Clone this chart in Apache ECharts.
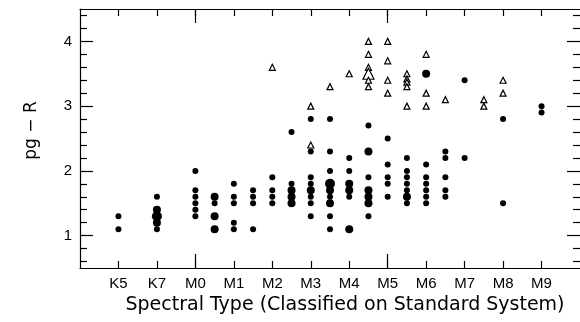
<!DOCTYPE html>
<html>
<head>
<meta charset="utf-8">
<style>
  html, body { margin: 0; padding: 0; background: #fff; }
  #main { width: 580px; height: 322px; }
</style>
<script src="https://cdn.jsdelivr.net/npm/echarts@6/dist/echarts.min.js"></script>
</head>
<body>
<div id="main"></div>
<script>
// 光谱型用数值表示: M0 = 0, K7 = -1, K5 = -2, M0.5 = 0.5 ...
var xTickValues = [-2, -1, 0, 1, 2, 3, 4, 5, 6, 7, 8, 9];
var xTickLabels = ['K5', 'K7', 'M0', 'M1', 'M2', 'M3', 'M4', 'M5', 'M6', 'M7', 'M8', 'M9'];
var xMajorTicks = [0, 5];
var yLabelValues = [1, 2, 3, 4];
var yMinorTicks = [0.6, 0.8, 1.2, 1.4, 1.6, 1.8, 2.2, 2.4, 2.6, 2.8, 3.2, 3.4, 3.6, 3.8, 4.2, 4.4];

// [spectral type, pg - R, number of stars]
var detections = [
    [-2, 1.3, 1], [-2, 1.1, 1],
    [-1, 1.6, 1], [-1, 1.4, 2], [-1, 1.3, 3], [-1, 1.2, 2], [-1, 1.1, 1],
    [0, 2.0, 1], [0, 1.7, 1], [0, 1.6, 1], [0, 1.5, 1], [0, 1.4, 1], [0, 1.3, 1],
    [0.5, 1.6, 2], [0.5, 1.5, 1], [0.5, 1.3, 2], [0.5, 1.1, 2],
    [1, 1.8, 1], [1, 1.6, 1], [1, 1.5, 1], [1, 1.2, 1], [1, 1.1, 1],
    [1.5, 1.7, 1], [1.5, 1.6, 1], [1.5, 1.5, 1], [1.5, 1.1, 1],
    [2, 1.9, 1], [2, 1.7, 1], [2, 1.6, 1], [2, 1.5, 1],
    [2.5, 2.6, 1], [2.5, 1.8, 1], [2.5, 1.7, 2], [2.5, 1.6, 2], [2.5, 1.5, 2],
    [3, 2.8, 1], [3, 2.3, 1], [3, 1.9, 1], [3, 1.8, 1], [3, 1.7, 2], [3, 1.6, 1], [3, 1.5, 1], [3, 1.3, 1],
    [3.5, 2.8, 1], [3.5, 2.3, 1], [3.5, 2.0, 1], [3.5, 1.8, 3], [3.5, 1.7, 2], [3.5, 1.6, 1], [3.5, 1.5, 2], [3.5, 1.3, 1], [3.5, 1.1, 1],
    [4, 2.2, 1], [4, 2.0, 1], [4, 1.8, 2], [4, 1.7, 2], [4, 1.6, 1], [4, 1.1, 2],
    [4.5, 2.7, 1], [4.5, 2.3, 2], [4.5, 1.9, 1], [4.5, 1.7, 2], [4.5, 1.6, 2], [4.5, 1.5, 2], [4.5, 1.3, 1],
    [5, 2.5, 1], [5, 2.1, 1], [5, 1.9, 1], [5, 1.8, 1], [5, 1.6, 1],
    [5.5, 2.2, 1], [5.5, 2.0, 1], [5.5, 1.9, 1], [5.5, 1.8, 1], [5.5, 1.7, 1], [5.5, 1.6, 2], [5.5, 1.5, 1],
    [6, 3.5, 2], [6, 2.1, 1], [6, 1.9, 1], [6, 1.8, 1], [6, 1.7, 1], [6, 1.6, 1], [6, 1.5, 1],
    [6.5, 2.3, 1], [6.5, 2.2, 1], [6.5, 1.9, 1], [6.5, 1.7, 1], [6.5, 1.6, 1],
    [7, 3.4, 1], [7, 2.2, 1],
    [8, 2.8, 1], [8, 1.5, 1],
    [9, 3.0, 1], [9, 2.9, 1]
];

// upper limits (open triangles)
var upperLimits = [
    [2, 3.6, 1],
    [3, 3.0, 1], [3, 2.4, 1],
    [3.5, 3.3, 1],
    [4, 3.5, 1],
    [4.5, 4.0, 1], [4.5, 3.8, 1], [4.5, 3.6, 1], [4.5, 3.5, 2], [4.5, 3.4, 1], [4.5, 3.3, 1],
    [5, 4.0, 1], [5, 3.7, 1], [5, 3.4, 1], [5, 3.2, 1],
    [5.5, 3.5, 1], [5.5, 3.42, 1], [5.5, 3.37, 1], [5.5, 3.3, 1], [5.5, 3.0, 1],
    [6, 3.8, 1], [6, 3.2, 1], [6, 3.0, 1],
    [6.5, 3.1, 1],
    [7.5, 3.1, 1], [7.5, 3.0, 1],
    [8, 3.4, 1], [8, 3.2, 1]
];

const spectralChart = {
    init: function () {
        this.render();
    },
    xAxisPart: function (position, ticks, len, withLabel, withLine) {
        return {
            type: 'value',
            position: position,
            min: -3,
            max: 10,
            axisLine: { show: withLine, onZero: false, lineStyle: { color: '#000', width: 1.2 } },
            axisTick: { show: true, inside: true, length: len, customValues: ticks, lineStyle: { color: '#000', width: 1.2 } },
            axisLabel: withLabel ? {
                show: true,
                customValues: xTickValues,
                margin: 8,
                color: '#000',
                fontSize: 15,
                fontFamily: 'Liberation Sans',
                formatter: function (v) {
                    var i = xTickValues.indexOf(Math.round(v));
                    return i >= 0 ? xTickLabels[i] : '';
                }
            } : { show: false },
            splitLine: { show: false }
        };
    },
    yAxisPart: function (position, ticks, len, withLabel, withLine) {
        return {
            type: 'value',
            position: position,
            min: 0.5,
            max: 4.5,
            axisLine: { show: withLine, onZero: false, lineStyle: { color: '#000', width: 1.2 } },
            axisTick: { show: true, inside: true, length: len, customValues: ticks, lineStyle: { color: '#000', width: 1.2 } },
            axisLabel: withLabel ? {
                show: true,
                customValues: yLabelValues,
                margin: 8,
                color: '#000',
                fontSize: 15,
                fontFamily: 'Liberation Sans'
            } : { show: false },
            splitLine: { show: false }
        };
    },
    render: function () {
        var _this = this;
        var xBottom = _this.xAxisPart('bottom', xTickValues, 7, true, true);
        xBottom.name = 'Spectral Type (Classified on Standard System)';
        xBottom.nameLocation = 'middle';
        xBottom.nameGap = 24;
        xBottom.nameTextStyle = {
            color: '#000', fontSize: 19, fontFamily: 'DejaVu Sans',
            padding: [0, 0, 0, 30]
        };
        var yLeft = _this.yAxisPart('left', yLabelValues, 13, true, true);
        yLeft.name = 'pg − R';
        yLeft.nameLocation = 'middle';
        yLeft.nameRotate = 90;
        yLeft.nameGap = 40;
        yLeft.nameTextStyle = {
            color: '#000', fontSize: 17, fontFamily: 'DejaVu Sans',
            padding: [0, 0, 0, 16]
        };

        var option = {
            animation: false,
            backgroundColor: '#fff',
            grid: { left: 80, right: 0, top: 9, bottom: 54 },
            xAxis: [
                xBottom,
                _this.xAxisPart('bottom', xMajorTicks, 14, false, false),
                _this.xAxisPart('top', xTickValues, 7, false, true),
                _this.xAxisPart('top', xMajorTicks, 14, false, false)
            ],
            yAxis: [
                yLeft,
                _this.yAxisPart('left', yMinorTicks, 7, false, false),
                _this.yAxisPart('right', yLabelValues, 13, false, false),
                _this.yAxisPart('right', yMinorTicks, 7, false, false)
            ],
            series: [
                {
                    name: 'detections',
                    type: 'scatter',
                    xAxisIndex: 0,
                    yAxisIndex: 0,
                    symbol: 'circle',
                    symbolSize: function (d) { return d[2] == 1 ? 6 : (d[2] == 2 ? 8 : 10); },
                    itemStyle: { color: '#000', opacity: 1 },
                    data: detections
                },
                {
                    name: 'upper limits',
                    type: 'scatter',
                    xAxisIndex: 0,
                    yAxisIndex: 0,
                    symbol: 'triangle',
                    symbolSize: function (d) { return d[2] == 1 ? 6 : 11; },
                    itemStyle: { color: '#fff', borderColor: '#000', borderWidth: 1.2, opacity: 1 },
                    data: upperLimits
                }
            ]
        };
        var container = document.getElementById('main');
        const myChart = echarts.init(container);
        myChart.clear();
        myChart.setOption(option);
    }
};

spectralChart.init();
</script>
</body>
</html>
